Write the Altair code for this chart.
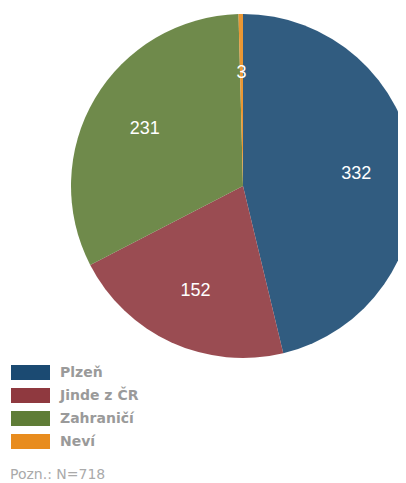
import altair as alt
import pandas as pd

categories = ["Plzeň", "Jinde z ČR", "Zahraničí", "Neví"]
values = [332, 152, 231, 3]
colors = ["#1b4a72", "#8f393f", "#5f7d37", "#e88c1e"]
note = "Pozn.: N=718"

df = pd.DataFrame({"cat": categories, "val": values, "ord": list(range(len(categories)))})

CX, CY = 235, 178

base = alt.Chart(df).encode(
    theta=alt.Theta("val:Q", stack=True),
    order=alt.Order("ord:Q"),
)

arcs = base.mark_arc(radius=172, opacity=0.9).encode(
    x=alt.value(CX), y=alt.value(CY),
    color=alt.Color(
        "cat:N",
        scale=alt.Scale(domain=categories, range=colors),
        sort=categories,
        legend=alt.Legend(
            title=None, orient="none", legendX=15, legendY=357,
            symbolType="M-2.6,-1L2.6,-1L2.6,1L-2.6,1Z",
            symbolSize=225, symbolOpacity=1, symbolStrokeWidth=0,
            labelFont="DejaVu Sans", labelFontWeight="bold", labelFontSize=14,
            labelColor="#9a9a9a", labelOffset=22, rowPadding=8,
        ),
    ),
)

labels = base.mark_text(radius=114, fontSize=18, font="Liberation Sans", color="white").encode(
    x=alt.value(CX), y=alt.value(CY + 1),
    text="val:Q",
)

note_layer = alt.Chart(pd.DataFrame({"t": [note]})).mark_text(
    align="left", baseline="alphabetic", font="DejaVu Sans", fontSize=14, color="#aaaaaa"
).encode(x=alt.value(2), y=alt.value(471), text="t:N")

chart = alt.layer(arcs, labels, note_layer).properties(
    width=390, height=475, autosize="none", padding=0
).configure_view(stroke=None)

chart.save("out.html", embed_options={"renderer": "svg", "actions": False})
